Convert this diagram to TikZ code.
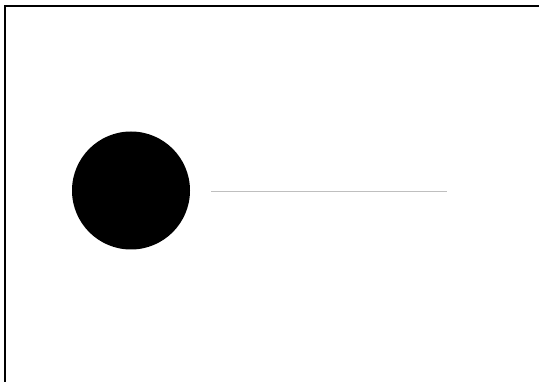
\documentclass[tikz,border=0pt]{standalone}
\begin{document}
\begin{tikzpicture}[x=1pt,y=-1pt,
  framestyle/.style={line width=2pt,black},
  dotstyle/.style={circle,fill=black,minimum size=118pt,inner sep=0pt},
  linestyle/.style={line width=1.8pt,color=black!25}]
\useasboundingbox (0,0) rectangle (539,382);
\fill[white] (0,0) rectangle (539,382);
\coordinate (fb) at (5,383);
\coordinate (fc) at (5,6);
\coordinate (fr) at (540,6);
\draw[framestyle] (fb) -- (fc) -- (fr);
\node[dotstyle] (dot) at (131,190.5) {};
\coordinate (ls) at (211,191.5);
\coordinate (le) at (447,191.5);
\draw[linestyle] (ls) -- (le);
\end{tikzpicture}
\end{document}
